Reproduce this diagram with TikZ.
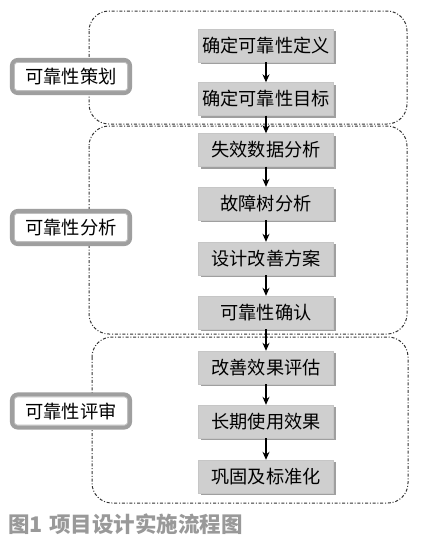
\documentclass[tikz,border=0pt]{standalone}
\usepackage{fontspec}
\setmainfont{Noto Sans CJK SC}
\usetikzlibrary{arrows.meta,shadows}
\begin{document}
\begin{tikzpicture}[x=1pt,y=-1pt,
  stepbox/.style={fill=gray!38, draw=gray!45, line width=0.4pt, minimum width=135pt, minimum height=33pt, inner sep=0pt,
     font=\fontsize{18.2}{20}\selectfont,
     general shadow={fill=gray!75, shadow xshift=2.2pt, shadow yshift=-2.2pt}},
  grp/.style={draw=black!80, line width=1pt, rounded corners=20pt, dash pattern=on 3pt off 1.8pt on 1pt off 1.8pt},
  labbox/.style={draw=gray!75, line width=4.2pt, rounded corners=6pt, fill=white, minimum width=118pt, minimum height=33pt, inner sep=0pt},
  labtext/.style={font=\fontsize{18.3}{20}\selectfont},
  inner/.style={draw=gray!50, line width=0.8pt, rounded corners=3pt},
  arr/.style={-{Stealth[length=8pt,width=7pt]}, line width=1.1pt, black}
]
\useasboundingbox[fill=white] (0,0) rectangle (422,542);

% groups
\draw[grp] (89,11) rectangle (407,124);
\draw[grp] (89,126) rectangle (407,334);
\draw[grp] (92,337) rectangle (408,503);

% left labels
\node[labbox] (l1) at (71,76.5) {};
\draw[inner] ([shift={(4.5pt,-4.5pt)}]l1.north west) rectangle ([shift={(-4.5pt,4.5pt)}]l1.south east);
\node[labtext] (t1) at (l1.center) {可靠性策划};

\node[labbox] (l2) at (71,227.5) {};
\draw[inner] ([shift={(4.5pt,-4.5pt)}]l2.north west) rectangle ([shift={(-4.5pt,4.5pt)}]l2.south east);
\node[labtext] (t2) at (l2.center) {可靠性分析};

\node[labbox] (l3) at (71,411) {};
\draw[inner] ([shift={(4.5pt,-4.5pt)}]l3.north west) rectangle ([shift={(-4.5pt,4.5pt)}]l3.south east);
\node[labtext] (t3) at (l3.center) {可靠性评审};

% steps
\node[stepbox] (b1) at (266,45.5) {确定可靠性定义};
\node[stepbox] (b2) at (266,99) {确定可靠性目标};
\node[stepbox] (b3) at (266,150) {失效数据分析};
\node[stepbox] (b4) at (266,203.5) {故障树分析};
\node[stepbox] (b5) at (266,258.5) {设计改善方案};
\node[stepbox] (b6) at (266,312.5) {可靠性确认};
\node[stepbox] (b7) at (266,367.5) {改善效果评估};
\node[stepbox] (b8) at (266,421.5) {长期使用效果};
\node[stepbox] (b9) at (266,476.5) {巩固及标准化};

\draw[arr] (b1.south) -- (b2.north);
\draw[arr] (b2.south) -- (b3.north);
\draw[arr] (b3.south) -- (b4.north);
\draw[arr] (b4.south) -- (b5.north);
\draw[arr] (b5.south) -- (b6.north);
\draw[arr] (b6.south) -- (b7.north);
\draw[arr] (b7.south) -- (b8.north);
\draw[arr] (b8.south) -- (b9.north);

% caption
\node[anchor=west, font=\fontsize{21.5}{24}\selectfont\bfseries, text=gray!80, inner sep=0pt] (cap) at (8,524) {图1\hspace{0.3em}项目设计实施流程图};
\end{tikzpicture}
\end{document}
